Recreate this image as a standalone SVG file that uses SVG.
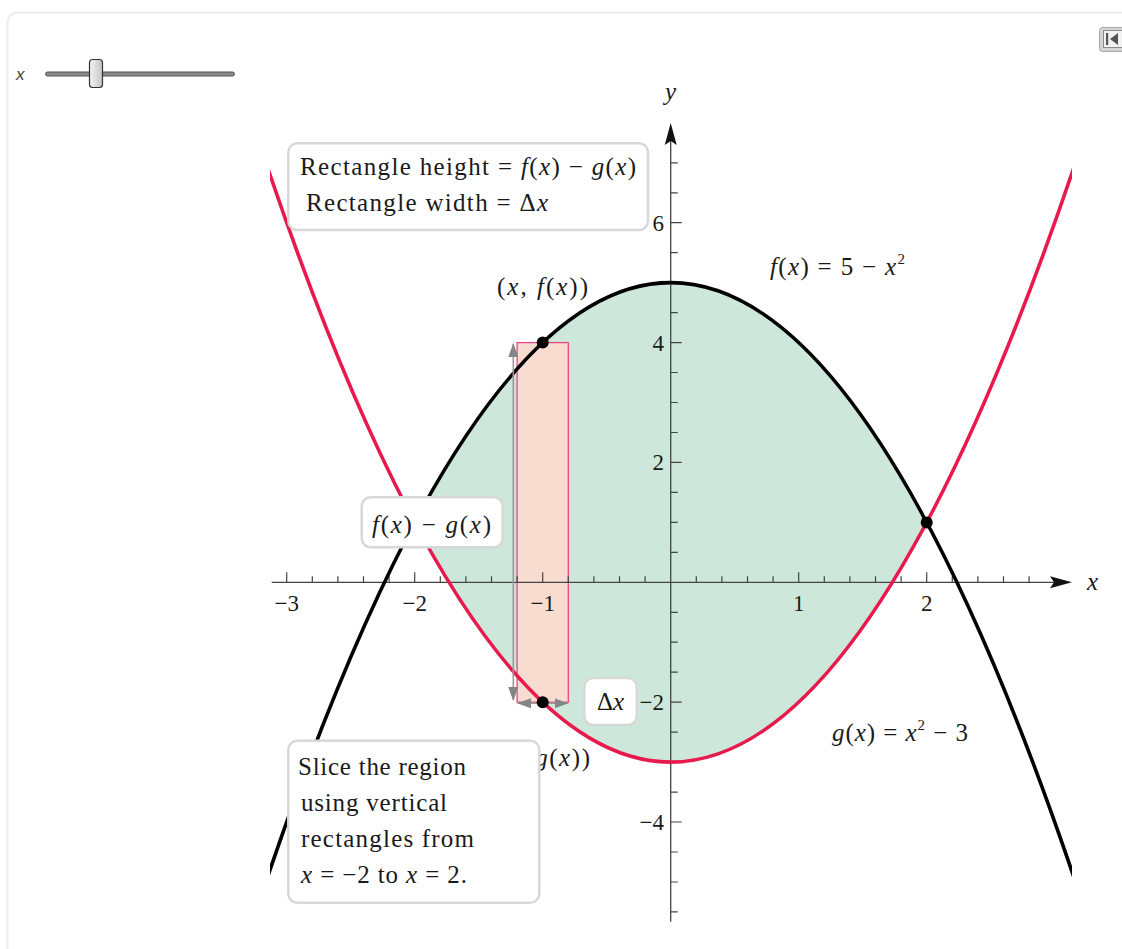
<svg xmlns="http://www.w3.org/2000/svg" width="1122" height="949" viewBox="0 0 1122 949">
<style>
.t{font-family:"Liberation Serif","Times New Roman",serif;font-size:23px;fill:#1a1a1a}
.b{font-size:25px}
.i{font-style:italic}
.sup{font-size:15px}
.box{fill:#fff;stroke:#d8d8d8;stroke-width:2.5}
.tick{stroke:#444;stroke-width:1.2;fill:none}
.axis{stroke:#444;stroke-width:1.3;fill:none}
.curveF{fill:none;stroke:#000;stroke-width:3.6}
.curveG{fill:none;stroke:#e8194c;stroke-width:3.6}
.garr{stroke:#999;stroke-width:1.6;fill:none}
.tl{text-anchor:middle}
.tr{text-anchor:end}
</style>
<defs>
<clipPath id="plot"><rect x="270" y="0" width="802" height="949"/></clipPath>
<linearGradient id="thumb" x1="0" y1="0" x2="1" y2="0">
<stop offset="0" stop-color="#f4f4f4"/><stop offset="1" stop-color="#c4c4c4"/>
</linearGradient>
<marker id="gh" viewBox="0 0 14 10" refX="13" refY="5" markerWidth="14" markerHeight="10" markerUnits="userSpaceOnUse" orient="auto-start-reverse">
<path d="M0,0 L14,5 L0,10 Z" fill="#858585"/>
</marker>
</defs>

<!-- frame -->
<rect x="7.5" y="12.5" width="1130" height="960" rx="10" fill="none" stroke="#ececec" stroke-width="2"/>

<!-- slider -->
<g id="slider">
<text x="16" y="80" font-family="Liberation Sans, Arial, sans-serif" font-style="italic" font-size="17" fill="#444">x</text>
<rect x="45.5" y="72" width="189" height="4" rx="2" fill="#8a8a8a" stroke="#555" stroke-width="1"/>
<rect x="89.5" y="59.5" width="13" height="28" rx="3" fill="url(#thumb)" stroke="#333" stroke-width="1.2"/>
</g>

<!-- button -->
<g id="button">
<rect x="1099.5" y="27.5" width="30" height="24" rx="3" fill="#d4d4d4" stroke="#a8a8a8"/>
<rect x="1103.5" y="30.5" width="25" height="17" fill="#f2f2f2" stroke="#8c8c8c"/>
<rect x="1106" y="33" width="2.2" height="12" fill="#555"/>
<path d="M1118,33 L1110,39 L1118,45 Z" fill="#555"/>
</g>

<!-- region -->
<g id="region">
<path d="M414.7,522.4 Q670.7,42.9 926.7,522.4 Q670.7,1001.8 414.7,522.4 Z" fill="#cde7da"/>
</g>

<!-- slice rectangle -->
<g id="slice">
<rect x="517.1" y="342.6" width="51.2" height="359.6" fill="#f8dccf" stroke="#e8458a" stroke-width="1.3"/>
</g>

<!-- axes -->
<g id="axes">
<line class="axis" x1="271.7" y1="582.3" x2="1056" y2="582.3"/>
<path d="M1072,582.3 L1050,576.3 L1054,582.3 L1050,588.3 Z" fill="#111"/>
<line class="axis" x1="670.7" y1="921.7" x2="670.7" y2="140"/>
<path d="M670.7,123 L664.7,145 L670.7,141 L676.7,145 Z" fill="#111"/>
<path class="tick" d="M286.7,582.3V572.3M414.7,582.3V572.3M542.7,582.3V572.3M798.7,582.3V572.3M926.7,582.3V572.3
M312.3,582.3V576.3M337.9,582.3V576.3M363.5,582.3V576.3M389.1,582.3V576.3M440.3,582.3V576.3M465.9,582.3V576.3M491.5,582.3V576.3M517.1,582.3V576.3M568.3,582.3V576.3M593.9,582.3V576.3M619.5,582.3V576.3M645.1,582.3V576.3M696.3,582.3V576.3M721.9,582.3V576.3M747.5,582.3V576.3M773.1,582.3V576.3M824.3,582.3V576.3M849.9,582.3V576.3M875.5,582.3V576.3M901.1,582.3V576.3M952.3,582.3V576.3M977.9,582.3V576.3M1003.5,582.3V576.3M1029.1,582.3V576.3"/>
<path class="tick" d="M670.7,822H681.7M670.7,702.2H681.7M670.7,462.4H681.7M670.7,342.6H681.7M670.7,222.7H681.7
M670.7,911.9H677.7M670.7,882H677.7M670.7,852H677.7M670.7,792.1H677.7M670.7,762.1H677.7M670.7,732.1H677.7M670.7,672.2H677.7M670.7,642.2H677.7M670.7,612.3H677.7M670.7,552.3H677.7M670.7,522.4H677.7M670.7,492.4H677.7M670.7,432.5H677.7M670.7,402.5H677.7M670.7,372.5H677.7M670.7,312.6H677.7M670.7,282.6H677.7M670.7,252.7H677.7M670.7,192.8H677.7M670.7,162.8H677.7"/>
<text class="t tl" x="286.7" y="611">−3</text>
<text class="t tl" x="414.7" y="611">−2</text>
<text class="t tl" x="542.7" y="611">−1</text>
<text class="t tl" x="798.7" y="611">1</text>
<text class="t tl" x="926.7" y="611">2</text>
<text class="t tr" x="664" y="230.7">6</text>
<text class="t tr" x="664" y="350.6">4</text>
<text class="t tr" x="664" y="470.4">2</text>
<text class="t tr" x="664" y="710.2">−2</text>
<text class="t tr" x="664" y="830">−4</text>
<text class="t b i" x="1087" y="590">x</text>
<text class="t b i" x="665" y="100">y</text>
</g>

<!-- curves -->
<g id="curves" clip-path="url(#plot)">
<path id="curve-f" class="curveF" d="M261.1,896.3 Q670.7,-331 1080.3,896.3"/>
<path id="curve-g" class="curveG" d="M261.1,148.4 Q670.7,1375.8 1080.3,148.4"/>
</g>

<!-- connectors: dimension arrows -->
<g id="connectors">
<line class="garr" x1="513.3" y1="700" x2="513.3" y2="344" marker-start="url(#gh)" marker-end="url(#gh)"/>
<line class="garr" x1="518" y1="703.3" x2="567.5" y2="703.3" marker-start="url(#gh)" marker-end="url(#gh)"/>
</g>

<!-- points -->
<g id="points" fill="#000">
<circle id="pt-f" cx="542.7" cy="342.6" r="6"/>
<circle id="pt-g" cx="542.7" cy="702.2" r="6"/>
<circle id="pt-int" cx="926.7" cy="522.4" r="6"/>
</g>

<!-- labels -->
<g id="label-f">
<text class="t b" x="770" y="275" textLength="135" lengthAdjust="spacing"><tspan class="i">f</tspan>(<tspan class="i">x</tspan>) = 5 − <tspan class="i">x</tspan><tspan class="sup" dy="-11">2</tspan></text>
</g>
<g id="label-g">
<text class="t b" x="832" y="741" textLength="136" lengthAdjust="spacing"><tspan class="i">g</tspan>(<tspan class="i">x</tspan>) = <tspan class="i">x</tspan><tspan class="sup" dy="-11">2</tspan><tspan dy="11"> − 3</tspan></text>
</g>
<g id="label-xf">
<text class="t b" x="497" y="295" textLength="91" lengthAdjust="spacing">(<tspan class="i">x</tspan>, <tspan class="i">f</tspan>(<tspan class="i">x</tspan>))</text>
</g>
<g id="label-xg">
<text class="t b" x="497" y="766" textLength="93" lengthAdjust="spacing">(<tspan class="i">x</tspan>, <tspan class="i">g</tspan>(<tspan class="i">x</tspan>))</text>
</g>

<g id="box-rect">
<rect class="box" x="288.3" y="143.3" width="359.7" height="86.7" rx="9"/>
<text class="t b" x="300" y="175" textLength="336" lengthAdjust="spacing">Rectangle height = <tspan class="i">f</tspan>(<tspan class="i">x</tspan>) − <tspan class="i">g</tspan>(<tspan class="i">x</tspan>)</text>
<text class="t b" x="306" y="211" textLength="242" lengthAdjust="spacing">Rectangle width = Δ<tspan class="i">x</tspan></text>
</g>

<g id="box-height">
<rect class="box" x="361.7" y="497.3" width="141" height="50" rx="9"/>
<text class="t b" x="372" y="533" textLength="119" lengthAdjust="spacing"><tspan class="i">f</tspan>(<tspan class="i">x</tspan>) − <tspan class="i">g</tspan>(<tspan class="i">x</tspan>)</text>
</g>

<g id="box-dx">
<rect class="box" x="584.3" y="678" width="52.4" height="47" rx="9"/>
<text class="t b tl" x="610.5" y="710">Δ<tspan class="i">x</tspan></text>
</g>

<g id="box-slice">
<rect class="box" x="288.3" y="740.7" width="251" height="162" rx="9"/>
<text class="t b" x="298" y="775" textLength="168" lengthAdjust="spacing">Slice the region</text>
<text class="t b" x="301" y="811" textLength="146" lengthAdjust="spacing">using vertical</text>
<text class="t b" x="301" y="847" textLength="173" lengthAdjust="spacing">rectangles from</text>
<text class="t b" x="301" y="883" textLength="166" lengthAdjust="spacing"><tspan class="i">x</tspan> = −2 to <tspan class="i">x</tspan> = 2.</text>
</g>
</svg>
